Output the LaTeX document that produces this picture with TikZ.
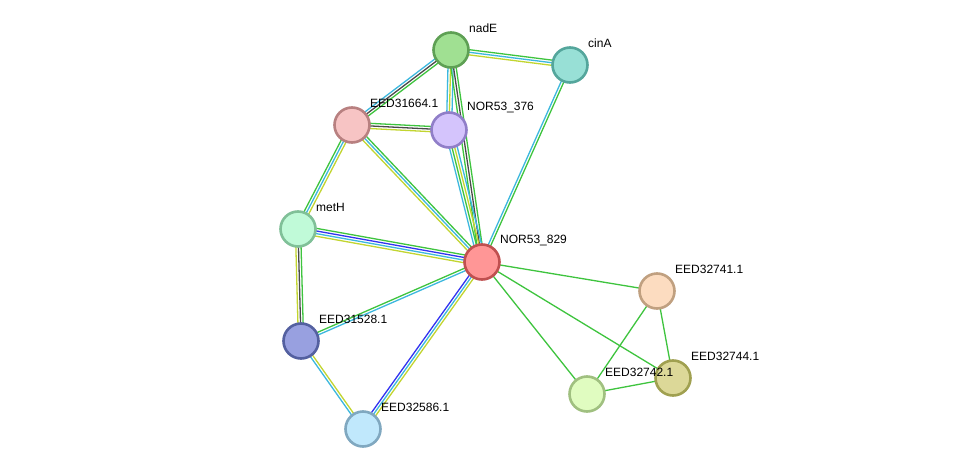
\documentclass[tikz,border=0pt]{standalone}
\usepackage{fontspec}
\setmainfont{Liberation Sans}
\usetikzlibrary{calc}
\pgfdeclarelayer{background}
\pgfsetlayers{background,main}
\definecolor{egreen}{HTML}{3EC43E}
\definecolor{ecyan}{HTML}{3CB8DE}
\definecolor{eyel}{HTML}{C2D530}
\definecolor{eblack}{HTML}{4A4A4A}
\definecolor{eblue}{HTML}{3232F0}
\newcommand\ed[3]{%
  \foreach \ecol [count=\ei] in {#3} {\xdef\enn{\ei}}%
  \foreach \ecol [count=\ei] in {#3} {%
    \pgfmathsetmacro\eoff{((\enn+1)/2-\ei)*2.6}%
    \draw[\ecol, line width=1.3pt] ($(#1)!\eoff pt!90:(#2)$) -- ($(#2)!\eoff pt!-90:(#1)$);
  }%
}
\tikzset{
  prot/.style={circle, minimum size=35pt, inner sep=0pt, line width=2.6pt},
  lbl/.style={anchor=west, inner sep=0pt, font=\fontsize{12}{14}\selectfont, text=black}
}
\begin{document}
\begin{tikzpicture}[x=1pt,y=-1pt]
\useasboundingbox (0,0) rectangle (975,474);
\node[prot, fill={rgb,255:red,160;green,224;blue,146}, draw={rgb,255:red,94;green,160;blue,84}] (nadE) at (451,50) {};
\node[prot, fill={rgb,255:red,152;green,224;blue,214}, draw={rgb,255:red,84;green,166;blue,156}] (cinA) at (570,65) {};
\node[prot, fill={rgb,255:red,247;green,196;blue,196}, draw={rgb,255:red,184;green,128;blue,128}] (e664) at (352,125) {};
\node[prot, fill={rgb,255:red,212;green,196;blue,252}, draw={rgb,255:red,144;green,126;blue,200}] (n376) at (449,130) {};
\node[prot, fill={rgb,255:red,192;green,250;blue,216}, draw={rgb,255:red,128;green,192;blue,152}] (metH) at (298,229) {};
\node[prot, fill={rgb,255:red,255;green,150;blue,150}, draw={rgb,255:red,192;green,80;blue,80}] (n829) at (482,262) {};
\node[prot, fill={rgb,255:red,252;green,220;blue,192}, draw={rgb,255:red,192;green,160;blue,128}] (e741) at (657,291) {};
\node[prot, fill={rgb,255:red,152;green,160;blue,224}, draw={rgb,255:red,84;green,96;blue,160}] (e528) at (301,341) {};
\node[prot, fill={rgb,255:red,220;green,216;blue,152}, draw={rgb,255:red,160;green,160;blue,80}] (e744) at (673,378) {};
\node[prot, fill={rgb,255:red,224;green,252;blue,192}, draw={rgb,255:red,160;green,192;blue,128}] (e742) at (587,394) {};
\node[prot, fill={rgb,255:red,192;green,232;blue,252}, draw={rgb,255:red,128;green,168;blue,192}] (e586) at (363,429) {};
\node[lbl] (l-nadE) at ($(nadE)+(18,-22)$) {nadE};
\node[lbl] (l-cinA) at ($(cinA)+(18,-22)$) {cinA};
\node[lbl] (l-e664) at ($(e664)+(18,-22)$) {EED31664.1};
\node[lbl] (l-n376) at ($(n376)+(18,-22)$) {NOR53\_376};
\node[lbl] (l-metH) at ($(metH)+(18,-22)$) {metH};
\node[lbl] (l-n829) at ($(n829)+(18,-22)$) {NOR53\_829};
\node[lbl] (l-e741) at ($(e741)+(18,-22)$) {EED32741.1};
\node[lbl] (l-e528) at ($(e528)+(18,-22)$) {EED31528.1};
\node[lbl] (l-e744) at ($(e744)+(18,-22)$) {EED32744.1};
\node[lbl] (l-e742) at ($(e742)+(18,-22)$) {EED32742.1};
\node[lbl] (l-e586) at ($(e586)+(18,-22)$) {EED32586.1};
\begin{pgfonlayer}{background}
\fill[white] (0,0) rectangle (975,474);
\ed{nadE}{cinA}{egreen,ecyan,eyel}
\ed{e664}{nadE}{ecyan,eblack,egreen}
\ed{nadE}{n376}{ecyan,eyel,ecyan}
\ed{nadE}{n829}{egreen,eblack,egreen}
\ed{n376}{n829}{ecyan,eyel,egreen,ecyan}
\ed{e664}{n376}{egreen,eblack,eyel}
\ed{e664}{metH}{eyel,ecyan,egreen}
\ed{e664}{n829}{egreen,ecyan,eyel}
\ed{cinA}{n829}{egreen,ecyan}
\ed{metH}{n829}{egreen,eblue,ecyan,eyel}
\ed{metH}{e528}{egreen,eblack,eyel}
\ed{e528}{n829}{egreen,ecyan}
\ed{e528}{e586}{eyel,ecyan}
\ed{n829}{e586}{eyel,ecyan,eblue}
\ed{n829}{e741}{egreen}
\ed{n829}{e744}{egreen}
\ed{n829}{e742}{egreen}
\ed{e741}{e742}{egreen}
\ed{e741}{e744}{egreen}
\ed{e742}{e744}{egreen}
\end{pgfonlayer}
\end{tikzpicture}
\end{document}
